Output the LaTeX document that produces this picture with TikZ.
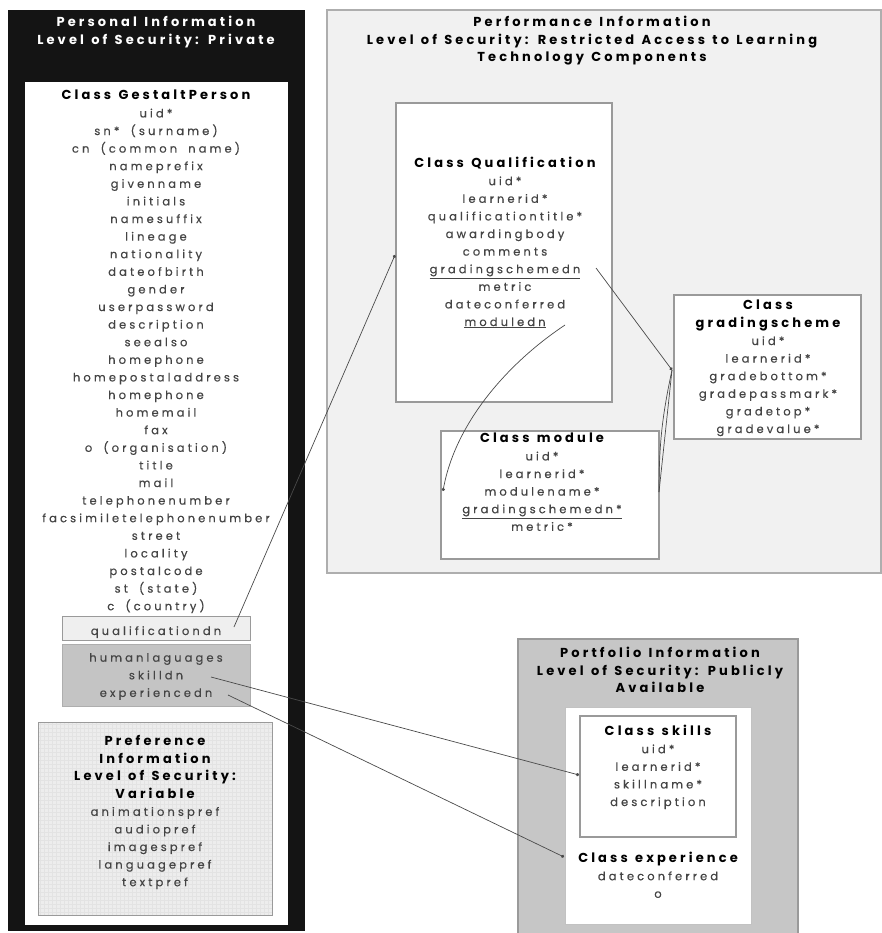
\documentclass[tikz,border=0pt]{standalone}
\usepackage{fontspec}
\usetikzlibrary{arrows.meta}
\newfontfamily\bodyfont{Poppins}[LetterSpace=27, FakeBold=0.35, WordSpace=1.8]
\newfontfamily\headfont{Poppins}[LetterSpace=24, WordSpace=1.25]
\newcommand\hd[1]{{\headfont\bfseries\fontsize{13}{17.6}\selectfont\color{black}#1}}
\definecolor{panelblack}{HTML}{141414}
\definecolor{txtgray}{HTML}{444444}
\definecolor{edgegray}{HTML}{9A9A9A}
\definecolor{perfbg}{HTML}{F1F1F1}
\definecolor{portbg}{HTML}{C6C6C6}
\definecolor{attrbg}{HTML}{C4C4C4}
\definecolor{qdnbg}{HTML}{EFEFEF}
\definecolor{prefbg}{HTML}{EDEDED}
\definecolor{prefgrid}{HTML}{E3E3E3}
\definecolor{linkgray}{HTML}{4A4A4A}
\tikzset{
  area/.style={anchor=north west, inner sep=0pt, outer sep=0pt, line width=1.1pt},
  txt/.style={anchor=north, align=center, inner sep=0pt, text=txtgray,
    font=\bodyfont\fontsize{11.5}{17.6}\selectfont},
  link/.style={draw=linkgray, line width=0.7pt, -{Circle[length=3.2pt]}},
}
% box from (x1,y1) to (x2,y2), y growing downwards
\newcommand\areabox[6]{%
  \node[area, #6, minimum width={#4-#2}, minimum height={#5-#3}] (#1) at (#2,#3) {};}
\begin{document}
\begin{tikzpicture}[x=1pt, y=-1pt]
\useasboundingbox[fill=white] (0,0) rectangle (882,933);

% ---------- personal information ----------
\areabox{personal}{8}{10}{305}{931}{fill=panelblack}
\areabox{gestalt}{25}{82}{288}{925}{fill=white}
\node[txt, text=white] (personalhead) at (156,16)
  {\hd{\color{white}Personal Information}\\\hd{\color{white}Level of Security: Private}};
\node[txt] (gestalttext) at (156,90) {\hd{Class GestaltPerson}\\
  uid*\\ sn* (surname)\\ cn (common name)\\ nameprefix\\ givenname\\ initials\\
  namesuffix\\ lineage\\ nationality\\ dateofbirth\\ gender\\ userpassword\\
  description\\ seealso\\ homephone\\ homepostaladdress\\ homephone\\ homemail\\
  fax\\ o (organisation)\\ title\\ mail\\ telephonenumber\\
  facsimiletelephonenumber\\ street\\ locality\\ postalcode\\ st (state)\\
  c (country)};
\areabox{qdnbox}{62}{616}{250}{640}{fill=qdnbg, draw=edgegray, line width=0.8pt}
\node[txt] (qdntext) at (156,626) {qualificationdn};
\areabox{attrbox}{62}{644}{250}{706}{fill=attrbg, draw=edgegray!80, line width=0.8pt}
\node[txt] (attrtext) at (156,653) {humanlaguages\\ skilldn\\ experiencedn};
\areabox{pref}{38}{722}{272}{915}{fill=prefbg, draw=edgegray, line width=0.8pt}
\begin{scope}
  \clip (pref.north west) rectangle (pref.south east);
  \draw[prefgrid, line width=0.3pt, step=4pt] (pref.north west) grid (pref.south east);
\end{scope}
\draw[edgegray, line width=0.8pt] (pref.north west) rectangle (pref.south east);
\node[txt] (preftext) at (155,735) {\hd{Preference}\\ \hd{Information}\\
  \hd{Level of Security:}\\ \hd{Variable}\\ animationspref\\ audiopref\\
  imagespref\\ languagepref\\ textpref};

% ---------- performance information ----------
\areabox{perf}{327}{10}{881}{573}{fill=perfbg, draw=edgegray!80}
\node[txt] (perfhead) at (592,16) {\hd{Performance Information}\\
  \hd{Level of Security: Restricted Access to Learning}\\
  \hd{Technology Components}};
\areabox{qual}{396}{103}{612}{402}{fill=white, draw=edgegray}
\node[txt] (qualtext) at (505,157) {\hd{Class Qualification}\\
  uid*\\ learnerid*\\ qualificationtitle*\\ awardingbody\\ comments\\
  \underline{gradingschemedn}\\ metric\\ dateconferred\\ \underline{moduledn}};
\areabox{grading}{674}{295}{861}{439}{fill=white, draw=edgegray}
\node[txt] (gradingtext) at (768,300) {\hd{Class}\\ \hd{gradingscheme}\\
  uid*\\ learnerid*\\ gradebottom*\\ gradepassmark*\\ gradetop*\\ gradevalue*};
\areabox{module}{441}{431}{659}{559}{fill=white, draw=edgegray}
\node[txt] (moduletext) at (542,433) {\hd{Class module}\\
  uid*\\ learnerid*\\ modulename*\\ \underline{gradingschemedn*}\\ metric*};

% ---------- portfolio information ----------
\areabox{portfolio}{518}{639}{798}{936}{fill=portbg, draw=edgegray}
\node[txt] (porthead) at (660,647) {\hd{Portfolio Information}\\
  \hd{Level of Security: Publicly}\\ \hd{Available}};
\areabox{portinner}{565}{707}{751}{924}{fill=white, draw=edgegray!60, line width=0.8pt}
\areabox{skills}{580}{716}{736}{837}{fill=white, draw=edgegray}
\node[txt] (skillstext) at (658,725) {\hd{Class skills}\\
  uid*\\ learnerid*\\ skillname*\\ description};
\node[txt] (exptext) at (658,852) {\hd{Class experience}\\
  dateconferred\\ o};

% ---------- links between classes ----------
\coordinate (qdnout) at (234,627);
\coordinate (qualin) at (395,255);
\coordinate (gsdnout) at (596,268);
\coordinate (gradingin) at (672,370);
\coordinate (moddnout) at (565,325);
\coordinate (modulein) at (443,491);
\coordinate (moduleout) at (659,492);
\coordinate (skilldnout) at (211,677);
\coordinate (skillsin) at (579,775);
\coordinate (expdnout) at (228,695);
\coordinate (expin) at (564,857);

\draw[link] (qdnout) -- (qualin);
\draw[link] (gsdnout) -- (gradingin);
\draw[link] (moddnout) .. controls (505,365) and (455,425) .. (modulein);
\draw[link, -] (moduleout) -- (gradingin);
\draw[link, -] (moduleout) to[bend left=6] (gradingin);
\draw[link] (skilldnout) -- (skillsin);
\draw[link] (expdnout) -- (expin);
\end{tikzpicture}
\end{document}
